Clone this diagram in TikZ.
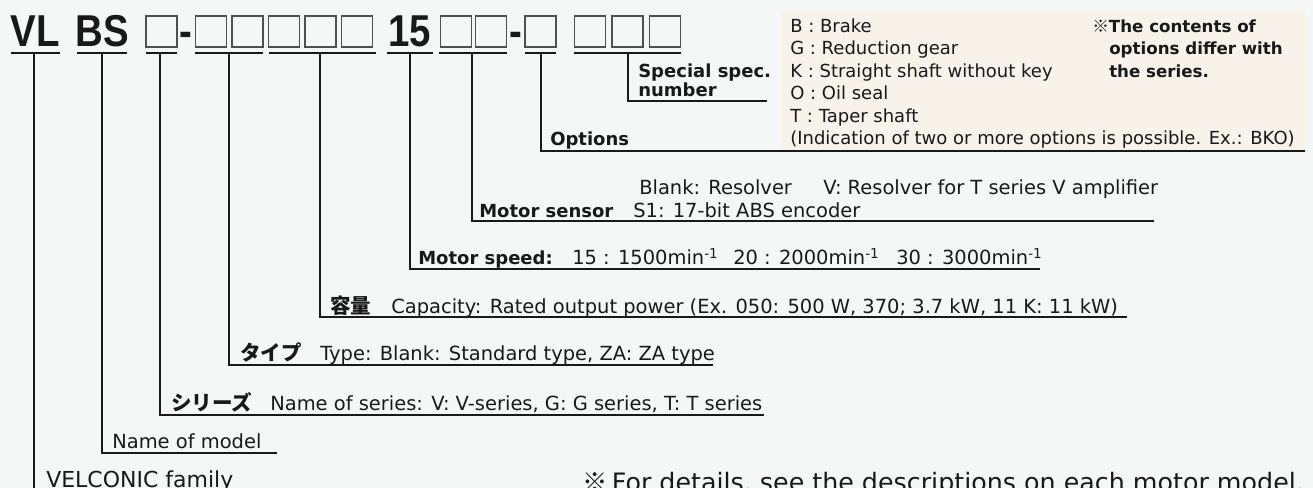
\documentclass[tikz,border=0pt]{standalone}
\usepackage{fontspec}
\setmainfont{DejaVu Sans}
\newfontfamily\headfont[FakeStretch=0.86]{Liberation Sans}
\newfontfamily\jpfont{Noto Sans CJK JP}
\definecolor{paper}{RGB}{245,247,246}
\definecolor{optbg}{RGB}{247,242,234}
\definecolor{boxedge}{RGB}{80,80,80}
\definecolor{ink}{RGB}{25,25,25}
\tikzset{
  ul/.style   ={line width=2pt, draw=ink},
  lead/.style ={line width=1.6pt, draw=ink},
  slot/.style ={rectangle, draw=boxedge, line width=1.1pt, minimum width=23pt, minimum height=23pt, inner sep=0pt},
  head/.style ={anchor=base, inner sep=0pt, text=ink, font=\headfont\bfseries\fontsize{33.5}{36}\selectfont},
  lbl/.style  ={anchor=base west, inner sep=0pt, text=ink, font=\bfseries\fontsize{13.5}{16}\selectfont},
  desc/.style ={anchor=base west, inner sep=0pt, text=ink, font=\fontsize{14.6}{17}\selectfont},
  optl/.style ={anchor=base west, inner sep=0pt, text=ink, font=\fontsize{13.5}{16}\selectfont},
  note/.style ={anchor=base west, inner sep=0pt, text=ink, font=\bfseries\fontsize{12.5}{15}\selectfont},
  jlbl/.style ={anchor=base west, inner sep=0pt, text=ink, font=\jpfont\bfseries\fontsize{15.4}{18}\selectfont},
}

\begin{document}
\begin{tikzpicture}[x=0.75pt, y=-0.75pt]
  \useasboundingbox (0,0) rectangle (1313,488);
  \clip (0,0) rectangle (1313,488);
  \fill[paper] (0,0) rectangle (1313,488);
  \fill[optbg] (782,10) rectangle (1305,151);

  % --- model code ------------------------------------------------------------
  \node[head] (vl)  at (35.5,47)  {VL};
  \node[head] (bs)  at (102,47)   {BS};
  \node[head] (d1)  at (186,47)   {-};
  \node[head] (spd) at (410,47)   {15};
  \node[head] (d2)  at (515.5,47) {-};
  \foreach \n/\cx in {1/161.5, 2/211, 3/247.5, 4/284, 5/320.5, 6/357,
                      7/456, 8/491, 9/540.5, 10/590, 11/627.5, 12/665}
    \node[slot] (s\n) at (\cx,31.5) {};

  % underlines, each with a tap point for its leader
  \foreach \a/\b/\t/\nm in {11/60/34/vl, 77/127/102/bs, 146/177/160/ser, 195/263/229/typ,
                            269/376/320/cap, 387/433/410/spd, 439/507/472/sen,
                            525/556/541/opt, 574/681/628/spc}{
    \draw[ul] (\a,53) -- (\b,53);
    \coordinate (t-\nm) at (\t,53);
  }

  % free ends of the leaders
  \coordinate (e-spc) at (767,101);
  \coordinate (e-opt) at (1305,151);
  \coordinate (e-sen) at (1154,221);
  \coordinate (e-spd) at (1040,269);
  \coordinate (e-cap) at (1127,317);
  \coordinate (e-typ) at (713,365);
  \coordinate (e-ser) at (764,415);
  \coordinate (e-bs)  at (277,453);
  \coordinate (e-vl)  at (34,500);

  \foreach \nm in {spc,opt,sen,spd,cap,typ,ser,bs,vl}
    \draw[lead] (t-\nm) |- (e-\nm);

  % --- labels ------------------------------------------------------------------
  \node[lbl] (l-spc1) at (638,78) {Special spec.};
  \node[lbl] (l-spc2) at (638,97) {number};

  \foreach \i/\txt in {0/{B : Brake}, 1/{G : Reduction gear}, 2/{K : Straight shaft without key},
                       3/{O : Oil seal}, 4/{T : Taper shaft},
                       5/{(Indication of two or more options is possible. Ex.: BKO)}}
    \node[optl] (o\i) at (790,32.5+22.4*\i) {\txt};
  \node[note] (n1) at (1092,32.5) {{\jpfont ※}The contents of};
  \node[note] (n2) at (1109,54.9) {options differ with};
  \node[note] (n3) at (1109,77.3) {the series.};
  \node[lbl] (l-opt) at (550,146) {Options};

  \node[desc] (sen-b) at (639,195) {Blank: Resolver};
  \node[desc] (sen-v) at (823,195) {V: Resolver for T series V amplifier};
  \node[lbl]  (l-sen) at (479,218) {Motor sensor};
  \node[desc] (sen-s) at (633,218) {S1: 17-bit ABS encoder};

  \node[lbl]  (l-spd) at (418,265) {Motor speed:};
  \node[desc] (v15) at (572,265) {15 : 1500min\textsuperscript{-1}};
  \node[desc] (v20) at (733,265) {20 : 2000min\textsuperscript{-1}};
  \node[desc] (v30) at (896,265) {30 : 3000min\textsuperscript{-1}};

  \node[jlbl] (l-cap) at (330,313) {容量};
  \node[desc] (cap)   at (391,313) {Capacity: Rated output power (Ex. 050: 500 W, 370; 3.7 kW, 11 K: 11 kW)};

  \node[jlbl] (l-typ) at (240,360) {タイプ};
  \node[desc] (typ)   at (320,360) {Type: Blank: Standard type, ZA: ZA type};

  \node[jlbl] (l-ser) at (171,410) {シリーズ};
  \node[desc] (ser)   at (270,410) {Name of series: V: V-series, G: G series, T: T series};

  \node[desc] (l-bs) at (112,448) {Name of model};
  \node[desc, font=\fontsize{16.5}{18}\selectfont] (l-vl) at (46,487) {VELCONIC family};

  \node[desc, font=\fontsize{19}{21}\selectfont] (foot) at (582,491) {{\jpfont ※}\,For details, see the descriptions on each motor model.};
\end{tikzpicture}
\end{document}
